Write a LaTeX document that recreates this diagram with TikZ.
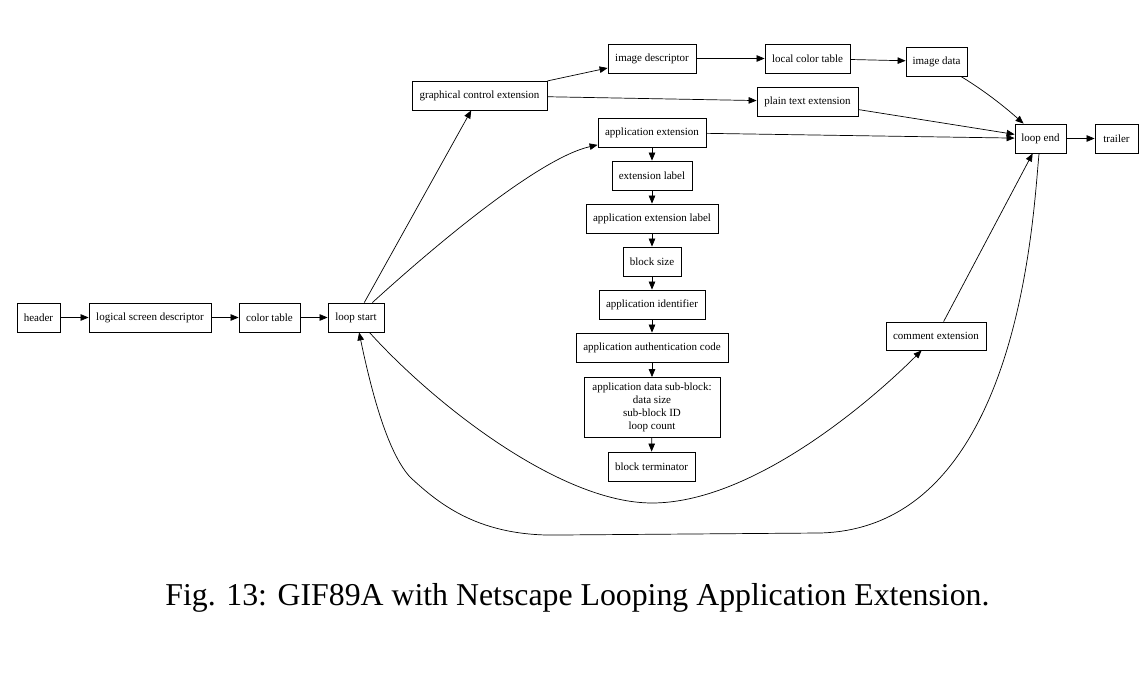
\documentclass[tikz,border=0pt]{standalone}
\usepackage{fontspec}
\setmainfont{Liberation Serif}
\usetikzlibrary{arrows.meta}
\begin{document}
\begin{tikzpicture}[x=1pt,y=-1pt,
  box/.style={draw,line width=0.8pt,minimum height=29pt,inner sep=0pt,font=\fontsize{11}{13}\selectfont},
  conn/.style={line width=0.7pt,-{Triangle[length=8pt,width=6.5pt]}}]
\useasboundingbox (0,0) rectangle (1144,674);
\node[box,minimum width=43pt] (hd) at (38.5,317.5) {header};
\node[box,minimum width=122pt] (lsd) at (150,317.5) {logical screen descriptor};
\node[box,minimum width=61pt] (ct) at (269.5,317.5) {color table};
\node[box,minimum width=56pt] (ls) at (356,317.5) {loop start};
\node[box,minimum width=135pt] (gce) at (479.5,95.5) {graphical control extension};
\node[box,minimum width=88pt] (idesc) at (652,58.5) {image descriptor};
\node[box,minimum width=85pt] (lct) at (807.5,58.5) {local color table};
\node[box,minimum width=61pt] (idata) at (936.5,61.5) {image data};
\node[box,minimum width=101pt] (pte) at (807.5,101.5) {plain text extension};
\node[box,minimum width=108pt] (ae) at (652,132.5) {application extension};
\node[box,minimum width=80pt] (el) at (652,175.5) {extension label};
\node[box,minimum width=132pt] (ael) at (652,218.5) {application extension label};
\node[box,minimum width=58pt] (bs) at (652,261.5) {block size};
\node[box,minimum width=106pt] (aid) at (652,304.5) {application identifier};
\node[box,minimum width=152pt] (aac) at (652,347.5) {application authentication code};
\node[box,minimum width=136pt,minimum height=60pt,align=center] (adsb) at (652,407.5) {application data sub-block:\\data size\\sub-block ID\\loop count};
\node[box,minimum width=87pt] (bt) at (651.5,466.5) {block terminator};
\node[box,minimum width=100pt,minimum height=28pt] (ce) at (936,336) {comment extension};
\node[box,minimum width=51pt] (le) at (1040.5,138.5) {loop end};
\node[box,minimum width=43pt] (tr) at (1116.5,138.5) {trailer};
\node[font=\fontsize{31.8}{38}\selectfont] (cap) at (577.5,598) {Fig. 13: GIF89A with Netscape Looping Application Extension.};
% straight connectors
\draw[conn] (hd) -- (lsd);
\draw[conn] (lsd) -- (ct);
\draw[conn] (ct) -- (ls);
\draw[conn] (ls) -- (gce);
\draw[conn] (gce) -- (idesc);
\draw[conn] (gce) -- (pte);
\draw[conn] (idesc) -- (lct);
\draw[conn] (lct) -- (idata);
\draw[conn] (pte) -- (le);
\draw[conn] (ae) -- (le);
\draw[conn] (ae) -- (el);
\draw[conn] (el) -- (ael);
\draw[conn] (ael) -- (bs);
\draw[conn] (bs) -- (aid);
\draw[conn] (aid) -- (aac);
\draw[conn] (aac) -- (adsb);
\draw[conn] (adsb) -- (bt);
\draw[conn] (ce) -- (le);
\draw[conn] (le) -- (tr);
% curved connectors
\draw[conn] (ls) .. controls (440,241) and (540,158) .. (ae);
\draw[conn] (idata) .. controls (988,93) and (1007,109) .. (le);
\draw[conn] (ls) .. controls (434,404) and (560,503) .. (652,503) .. controls (750,503) and (866,406) .. (ce);
\draw[conn] (le) .. controls (1033,215) and (1020,528) .. (820,533) -- (560,535) .. controls (480,537) and (440,505) .. (410,477) .. controls (390,455) and (374,404) .. (ls);
\end{tikzpicture}
\end{document}
